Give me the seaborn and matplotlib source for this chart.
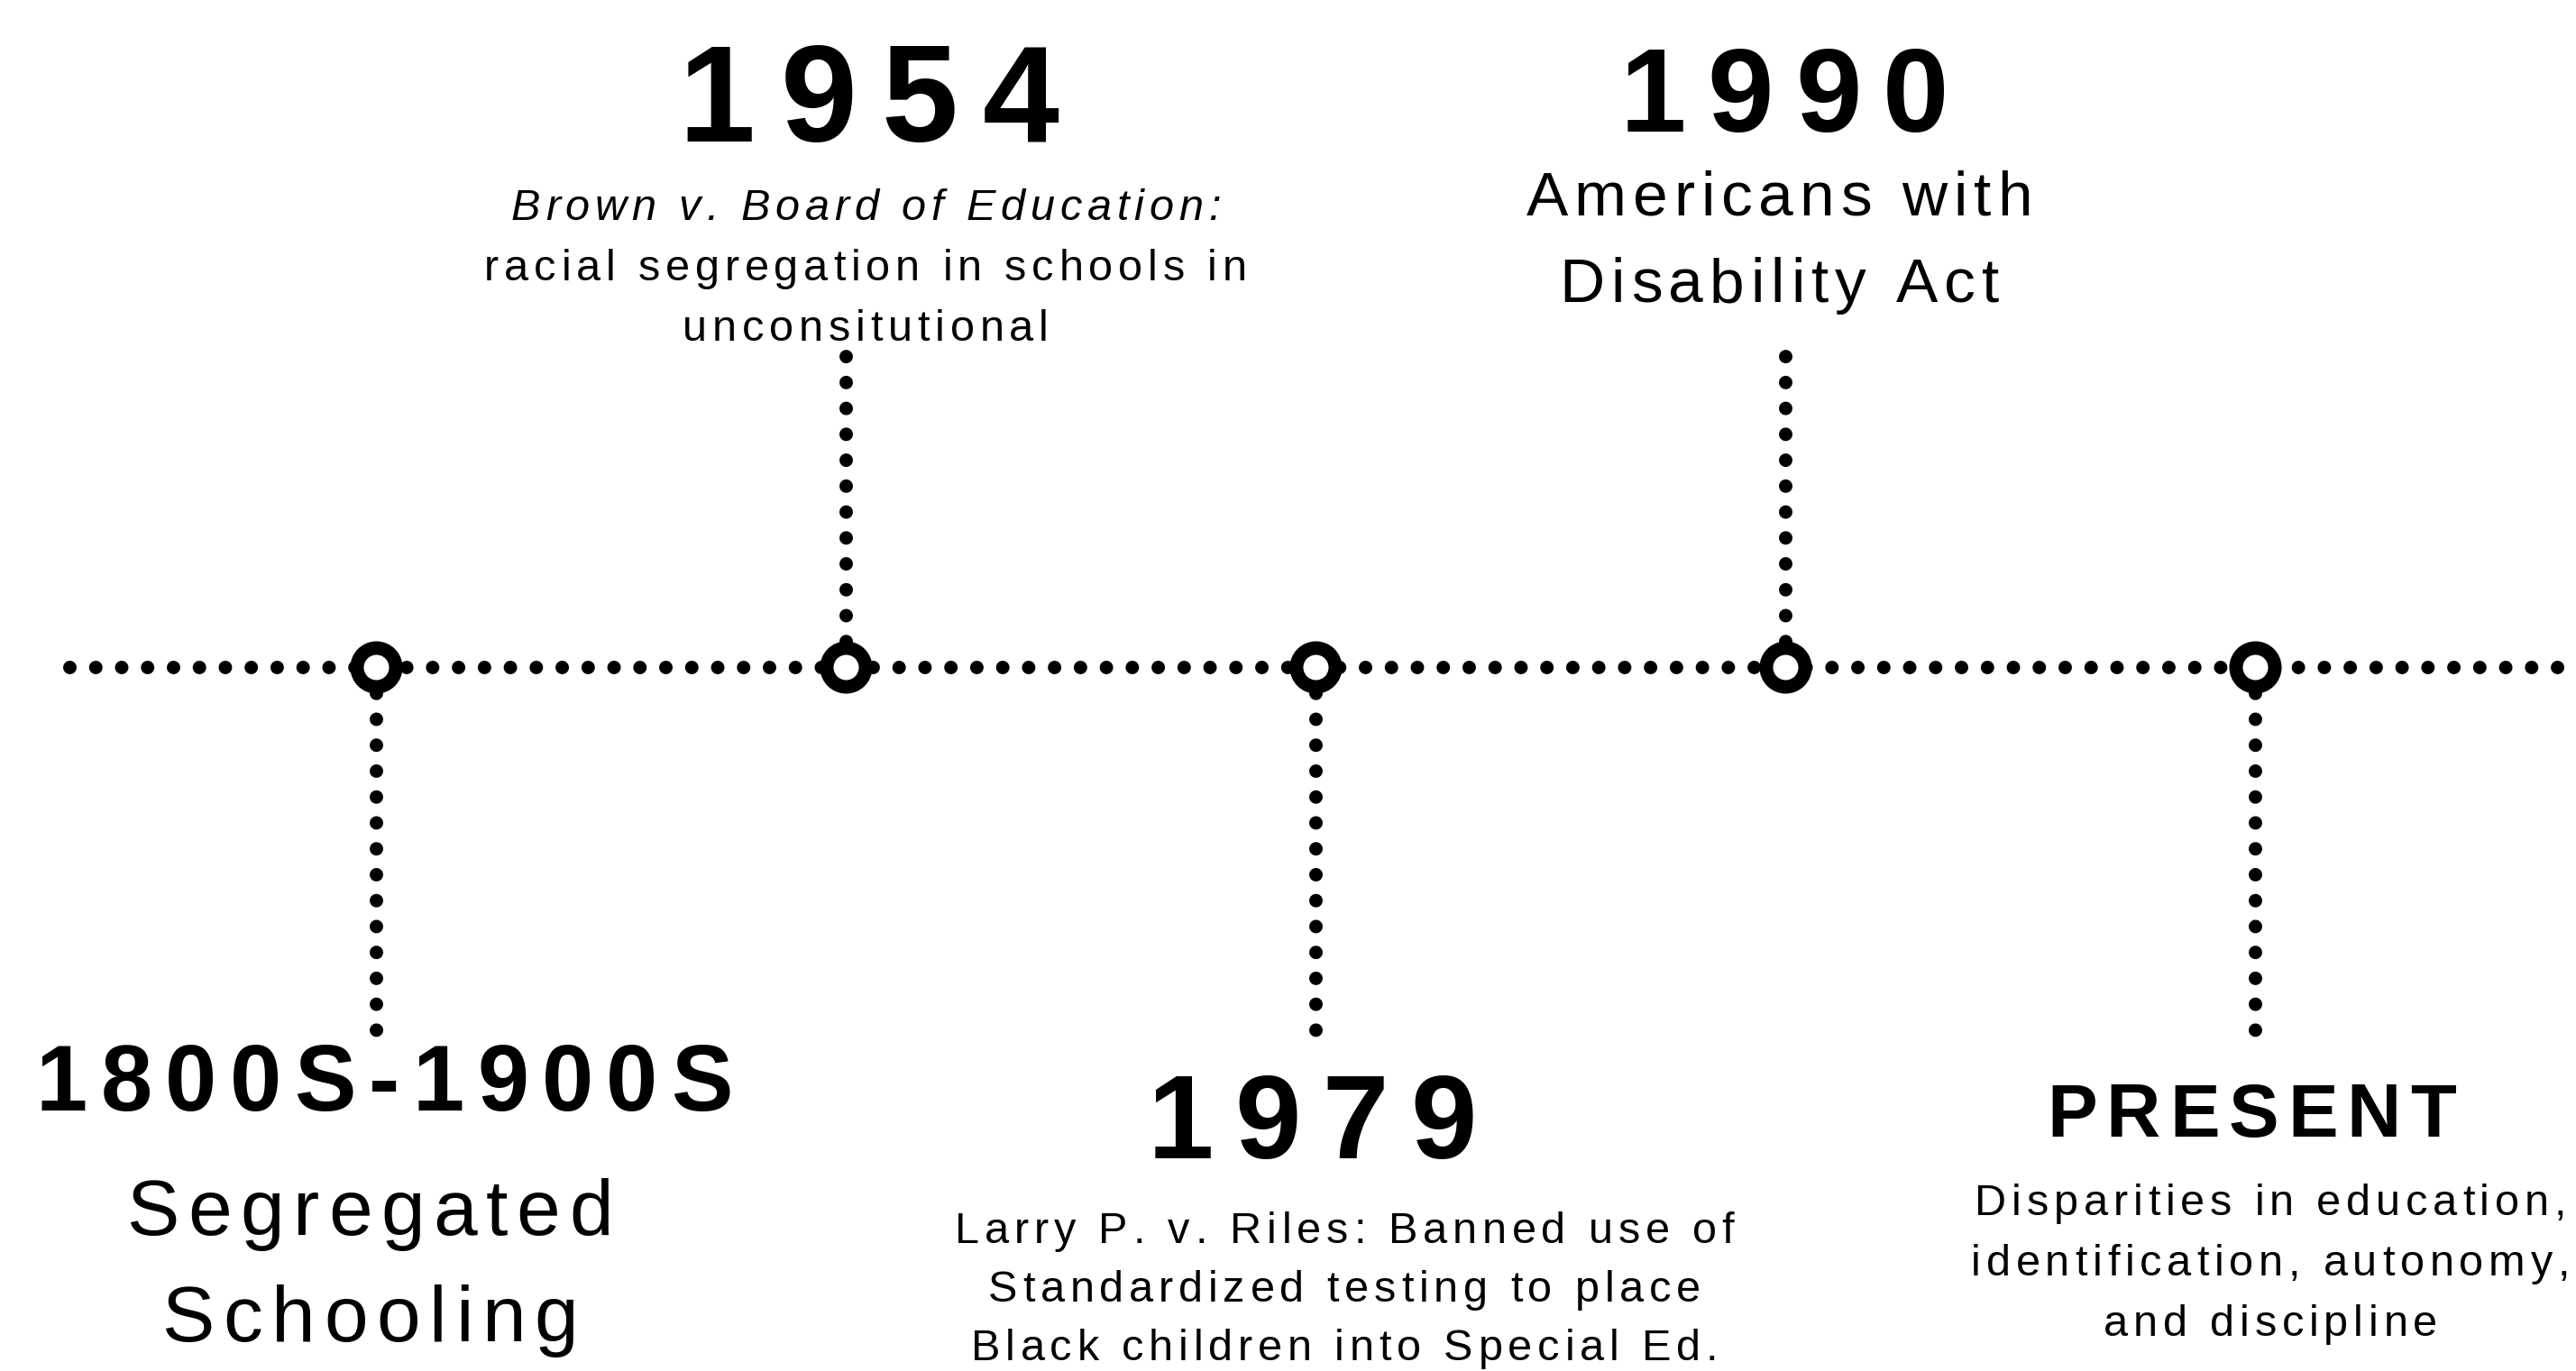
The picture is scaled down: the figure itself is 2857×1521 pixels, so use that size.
import matplotlib
matplotlib.use("Agg")
import matplotlib.pyplot as plt
import seaborn as sns
import pandas as pd
from matplotlib import font_manager
from matplotlib.ft2font import FT2Font

# events, left to right
labels = ["1800S-1900S", "1954", "1979", "1990", "PRESENT"]
sides = ["below", "above", "below", "above", "below"]
details = [
    ["Segregated", "Schooling"],
    ["Brown v. Board of Education:", "racial segregation in schools in", "unconsitutional"],
    ["Larry P. v. Riles: Banned use of", "Standardized testing to place", "Black children into Special Ed."],
    ["Americans with", "Disability Act"],
    ["Disparities in education,", "identification, autonomy,", "and discipline"],
]
italic_lines = [0, 1, 0, 0, 0]

# layout, in pixels with the timeline at y=0
head_size = [74, 110, 95, 95, 60]
head_track = [0.14, 0.18, 0.18, 0.18, 0.12]
head_base = [-492, 583, -545, 594, -521]
head_dx = [9, 26, -4, -1, -4]
body_size = [63, 35, 35, 50, 35]
body_track = [0.11, 0.12, 0.12, 0.1, 0.12]
body_base = [-630, 496, -639, 501, -608]
body_gap = [118, 67, 65, 96, 67]
body_dx = [-7, 22, 32, -7, 17]
stem_len = {"above": 346, "below": -404}

W, H = 2857, 1521
X0, STEP = 417, 521
LINE_Y = 740

DOT_LW = 10.8
DOTS = (0, (0.001, 1.915))

sns.set_theme(style="white")
plt.rcParams["font.family"] = ["Liberation Sans", "DejaVu Sans"]

_fonts = {}


def get_font(weight, style):
    key = (weight, style)
    if key not in _fonts:
        fp = font_manager.FontProperties(family="Liberation Sans", weight=weight, style=style)
        _fonts[key] = FT2Font(font_manager.findfont(fp), hinting_factor=1)
    return _fonts[key]


def tracked_text(ax, x, y, text, size, dx=0, tracking=0.15, weight="normal", style="normal"):
    # matplotlib has no letter spacing, so lay the characters out one by one
    font = get_font(weight, style)
    font.set_size(size, 72)
    adv = [font.load_char(ord(c)).linearHoriAdvance / 65536 for c in text]
    gap = tracking * size
    total = sum(adv) + gap * (len(text) - 1)
    pen = dx * 0.72 - total / 2
    for c, a in zip(text, adv):
        if c != " ":
            ax.annotate(
                c,
                xy=(x, y),
                xytext=(pen, 0),
                textcoords="offset points",
                fontsize=size,
                fontweight=weight,
                fontstyle=style,
                family="Liberation Sans",
                color="black",
                ha="left",
                va="baseline",
                annotation_clip=False,
            )
        pen += a + gap


df = pd.DataFrame({
    "label": labels,
    "pos": range(len(labels)),
    "line": 0,
})

fig = plt.figure(figsize=(W / 100, H / 100), dpi=100)
ax = fig.add_axes([0, 0, 1, 1])
ax.set_xlim(-X0 / STEP, (W - X0) / STEP)
ax.set_ylim(LINE_Y - H, LINE_Y)
ax.axis("off")

# main dotted line
ax.axhline(
    0,
    xmin=77 / W,
    xmax=2842 / W,
    color="black",
    linewidth=DOT_LW,
    linestyle=DOTS,
    dash_capstyle="round",
    zorder=1,
)

# stems
for pos, side in zip(df["pos"], sides):
    ax.plot(
        [pos, pos],
        [0, stem_len[side]],
        color="black",
        linewidth=DOT_LW,
        linestyle=DOTS,
        dash_capstyle="round",
        zorder=1,
    )

# ring markers
sns.scatterplot(
    data=df,
    x="pos",
    y="line",
    s=961,
    color="white",
    edgecolor="black",
    linewidth=10.8,
    zorder=3,
    legend=False,
    ax=ax,
)

for i, label in enumerate(labels):
    tracked_text(
        ax, i, head_base[i], label, head_size[i],
        dx=head_dx[i], tracking=head_track[i], weight="bold",
    )
    for j, line in enumerate(details[i]):
        tracked_text(
            ax, i, body_base[i] - j * body_gap[i], line, body_size[i],
            dx=body_dx[i], tracking=body_track[i],
            style="italic" if j < italic_lines[i] else "normal",
        )

ax.set_xlabel("")
ax.set_ylabel("")
fig.savefig("out.png", dpi=100, facecolor="white")
